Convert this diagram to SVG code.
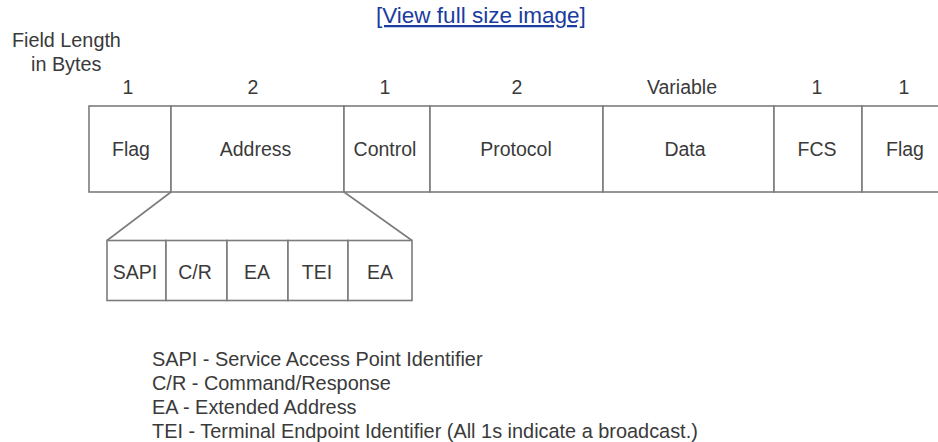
<svg xmlns="http://www.w3.org/2000/svg" width="938" height="442" viewBox="0 0 938 442">
  <style>
    text { font-family: "Liberation Sans", Arial, Helvetica, sans-serif; font-size: 19.5px; fill: #3a3a3a; }
    .c { text-anchor: middle; }
    .box { fill: #ffffff; stroke: #7c7c7c; stroke-width: 1.6; }
    .conn { stroke: #7c7c7c; stroke-width: 1.6; fill: none; }
    .link { fill: #1a3c9e; font-size: 22.5px; text-decoration: underline; }
    .legend text { font-size: 19.9px; }
  </style>
  <rect width="938" height="442" fill="#ffffff"/>

  <!-- link caption -->
  <text class="link" x="376" y="23">[View full size image]</text>

  <!-- side heading -->
  <g id="heading">
    <text x="12" y="47" style="font-size:19.8px">Field Length</text>
    <text x="31" y="70.5" style="font-size:19.8px">in Bytes</text>
  </g>

  <!-- field lengths -->
  <g id="lengths">
    <text class="c" x="128" y="93.5">1</text>
    <text class="c" x="253" y="93.5">2</text>
    <text class="c" x="385" y="93.5">1</text>
    <text class="c" x="517" y="93.5">2</text>
    <text class="c" x="682" y="93.5">Variable</text>
    <text class="c" x="817" y="93.5">1</text>
    <text class="c" x="904" y="93.5">1</text>
  </g>

  <!-- frame fields -->
  <g id="flag-start"><rect class="box" x="89" y="106" width="82" height="86"/><text class="c" x="131" y="155.5">Flag</text></g>
  <g id="address"><rect class="box" x="171" y="106" width="173" height="86"/><text class="c" x="255.5" y="155.5">Address</text></g>
  <g id="control"><rect class="box" x="344" y="106" width="86" height="86"/><text class="c" x="385" y="155.5">Control</text></g>
  <g id="protocol"><rect class="box" x="430" y="106" width="173" height="86"/><text class="c" x="516" y="155.5">Protocol</text></g>
  <g id="data"><rect class="box" x="603" y="106" width="171" height="86"/><text class="c" x="685" y="155.5">Data</text></g>
  <g id="fcs"><rect class="box" x="774" y="106" width="88" height="86"/><text class="c" x="817" y="155.5">FCS</text></g>
  <g id="flag-end"><rect class="box" x="862" y="106" width="86" height="86"/><text class="c" x="905" y="155.5">Flag</text></g>

  <!-- expansion of the address field -->
  <g id="connectors">
    <line class="conn" x1="171" y1="192" x2="107" y2="240.5"/>
    <line class="conn" x1="344" y1="192" x2="412" y2="240.5"/>
  </g>

  <g id="sapi"><rect class="box" x="107" y="240.5" width="59" height="60"/><text class="c" x="135" y="279">SAPI</text></g>
  <g id="cr"><rect class="box" x="166" y="240.5" width="61" height="60"/><text class="c" x="195" y="279">C/R</text></g>
  <g id="ea1"><rect class="box" x="227" y="240.5" width="61" height="60"/><text class="c" x="257" y="279">EA</text></g>
  <g id="tei"><rect class="box" x="288" y="240.5" width="60" height="60"/><text class="c" x="317" y="279">TEI</text></g>
  <g id="ea2"><rect class="box" x="348" y="240.5" width="64" height="60"/><text class="c" x="380" y="279">EA</text></g>

  <!-- legend -->
  <g id="legend" class="legend">
    <text x="152" y="366">SAPI - Service Access Point Identifier</text>
    <text x="152" y="390">C/R - Command/Response</text>
    <text x="152" y="414">EA - Extended Address</text>
    <text x="152" y="438">TEI - Terminal Endpoint Identifier (All 1s indicate a broadcast.)</text>
  </g>
</svg>
